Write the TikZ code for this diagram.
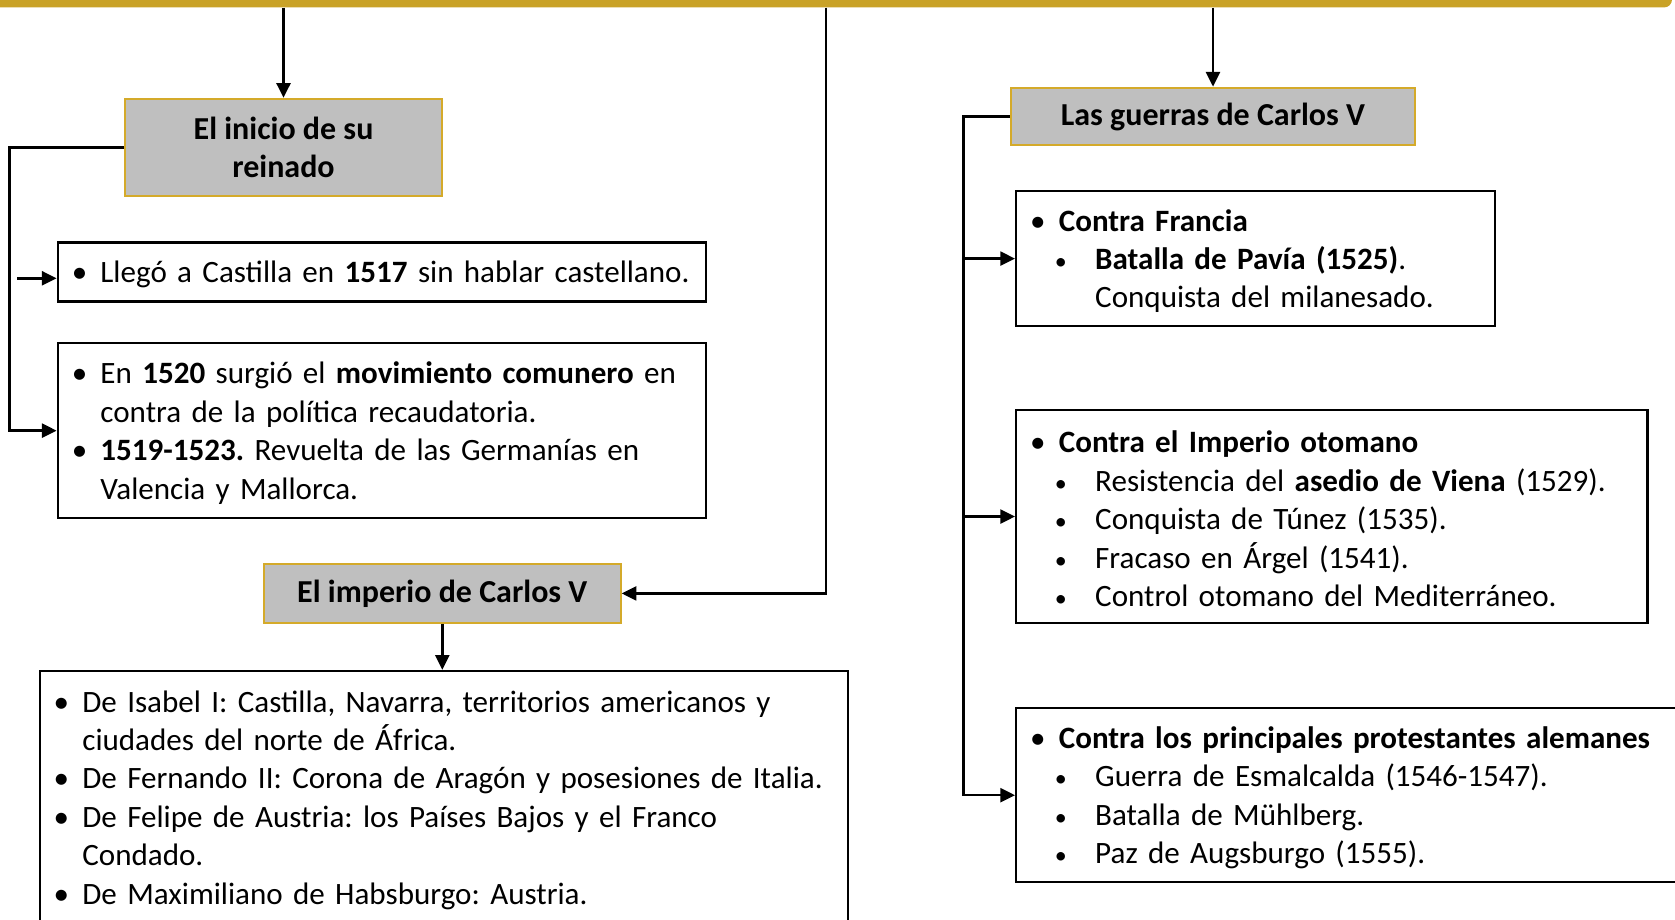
\documentclass[tikz,border=0pt]{standalone}
\usepackage{fontspec}
\setmainfont{Carlito}
\usepackage{tikz}
\usetikzlibrary{arrows.meta}

\definecolor{bargold}{HTML}{C9A227}
\definecolor{boxgold}{HTML}{D4AA2A}
\definecolor{boxgray}{HTML}{BFBFBF}

% bullet lines (first level and second level)
\newcommand{\bitem}[1]{\par\noindent\frenchspacing\rightskip=0pt plus 1fil\hangindent=21.5pt\hangafter=1\makebox[21.5pt][l]{\textbullet}#1\par}
\newcommand{\sitem}[1]{\par\noindent\frenchspacing\rightskip=0pt plus 1fil\hangindent=48.75pt\hangafter=1\hspace*{18.5pt}\makebox[30.25pt][l]{\fontsize{18}{18}\selectfont\textbullet}#1\par}
\newcommand{\liftend}{\vspace{8.8pt}}

\begin{document}
\begin{tikzpicture}[x=0.75pt, y=-0.75pt,
    font=\fontsize{23.3}{28.8}\selectfont,
    bar/.style={rectangle, fill=bargold, rounded corners=6pt, inner sep=0pt},
    headbox/.style={rectangle, draw=boxgold, line width=1.5pt, fill=boxgray, font=\fontsize{24}{28.8}\selectfont\bfseries, align=center, inner sep=0pt},
    infobox/.style={rectangle, draw, line width=1.8pt, fill=white, anchor=north west, inner xsep=10.5pt, inner ysep=0pt, align=left},
    lifted/.style={execute at end node=\liftend},
    arrow/.style={-{Triangle[length=11pt, width=10.5pt]}, line width=1.8pt}]

    \useasboundingbox (0,0) rectangle (1675,920);
    \clip (0,0) rectangle (1675,920);

    % Top band
    \node[bar, minimum width=1269pt, minimum height=20.6pt] (topbar) at (826,-6.25) {};

    % Left branch: start of the reign
    \node[headbox, minimum width=237.75pt, minimum height=73.1pt] (inicio) at (283.5,147.5) {El inicio de su\\reinado};
    \node[infobox, lifted, text width=465.3pt, minimum height=44.1pt] (llego) at (56.6,241.4)
        {\bitem{Llegó a Castilla en \textbf{1517} sin hablar castellano.}};
    \node[infobox, lifted, text width=465.3pt, minimum height=131.3pt] (comun) at (56.6,341.9)
        {\bitem{En \textbf{1520} surgió el \textbf{movimiento comunero} en\newline contra de la política recaudatoria.}
         \bitem{\textbf{1519-1523.} Revuelta de las Germanías en\newline Valencia y Mallorca.}};

    % Centre: the empire
    \node[headbox, minimum width=267.6pt, minimum height=44.1pt] (imperio) at (442.3,593.4) {El imperio de Carlos V};
    \node[infobox, text width=585.4pt, inner ysep=2pt, text depth=200pt] (reinos) at (38.5,669.8)
        {\bitem{De Isabel I: Castilla, Navarra, territorios americanos y\newline ciudades del norte de África.}
         \bitem{De Fernando II: Corona de Aragón y posesiones de Italia.}
         \bitem{De Felipe de Austria: los Países Bajos y el Franco\newline Condado.}
         \bitem{De Maximiliano de Habsburgo: Austria.}};

    % Right branch: the wars
    \node[headbox, minimum width=303.7pt, minimum height=43.3pt] (guerras) at (1213,116.5) {Las guerras de Carlos V};
    \node[infobox, lifted, text width=337.9pt, minimum height=101.1pt] (francia) at (1015,190)
        {\bitem{\textbf{Contra Francia}}
         \sitem{\textbf{Batalla de Pavía (1525)}.\newline Conquista del milanesado.}};
    \node[infobox, lifted, text width=452.5pt, minimum height=159.5pt] (otomano) at (1015,409)
        {\bitem{\textbf{Contra el Imperio otomano}}
         \sitem{Resistencia del \textbf{asedio de Viena} (1529).}
         \sitem{Conquista de Túnez (1535).}
         \sitem{Fracaso en Árgel (1541).}
         \sitem{Control otomano del Mediterráneo.}};
    \node[infobox, lifted, text width=492.75pt, minimum height=130.5pt] (protest) at (1015,707)
        {\bitem{\textbf{Contra los principales protestantes alemanes}}
         \sitem{Guerra de Esmalcalda (1546-1547).}
         \sitem{Batalla de Mühlberg.}
         \sitem{Paz de Augsburgo (1555).}};

    % Connectors
    \coordinate (drop) at (826,0);
    \coordinate (lspine) at (9.6,0);
    \coordinate (rspine) at (963.6,0);
    \coordinate (stub) at (17.3,278.3);

    \draw[arrow] (inicio.north |- topbar.south) -- (inicio.north);
    \draw[arrow] (guerras.north |- topbar.south) -- (guerras.north);
    \draw[arrow] (drop |- topbar.south) |- (imperio.east);
    \draw[arrow] (imperio.south) -- (imperio.south |- reinos.north);

    \draw[arrow] (inicio.west) -| (lspine |- comun.west) -- (comun.west);
    \draw[arrow] (stub) -- (stub -| llego.west);

    \draw[arrow] (guerras.west) -| (rspine |- protest.west) -- (protest.west);
    \draw[arrow] (rspine |- francia.west) -- (francia.west);
    \draw[arrow] (rspine |- otomano.west) -- (otomano.west);

\end{tikzpicture}
\end{document}
